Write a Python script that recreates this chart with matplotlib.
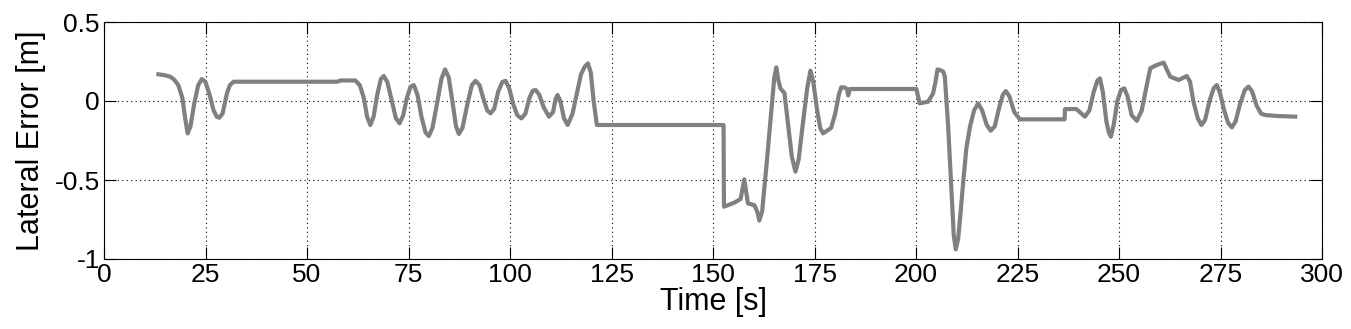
import matplotlib.pyplot as plt
import numpy as np

# time [s] and lateral error [m]
t = [13.4, 15.0, 16.3, 17.3, 18.3, 19.3, 20.0, 20.6, 21.3, 22.2, 23.2, 24.1, 25.0, 26.0, 27.0,
     27.8, 28.4, 29.2, 30.3, 31.0, 31.9, 40.0, 50.0, 57.4, 58.3, 61.9, 63.0, 64.0, 64.8,
     65.6, 66.4, 67.3, 68.2, 68.9, 69.8, 70.9, 71.9, 72.8, 73.7, 74.6, 75.5, 76.3, 77.2,
     78.2, 79.2, 80.0, 80.9, 82.0, 83.1, 84.0, 84.9, 85.8, 86.7, 87.4, 88.3, 89.5, 90.6,
     91.5, 92.5, 93.5, 94.4, 95.2, 96.1, 97.1, 98.1, 98.9, 99.8, 100.8, 101.8, 102.8,
     103.8, 104.8, 105.6, 106.3, 107.2, 108.3, 109.6, 110.6, 111.2, 111.7, 112.4, 113.3,
     114.2, 115.4, 116.5, 117.5, 118.4, 119.2, 119.9, 120.6, 121.4, 130.0, 140.0, 152.6,
     152.7, 155.3, 156.8, 157.7, 158.6, 160.2, 160.9, 161.4, 162.1, 163.2, 164.4, 165.1,
     165.6, 166.1, 166.6, 167.6, 168.5, 169.4, 170.3, 171.1, 172.1, 173.2, 174.0, 174.7,
     175.6, 176.4, 177.1, 178.0, 179.1, 180.1, 181.0, 181.6, 182.5, 183.0, 183.3, 183.7,
     190.0, 200.1, 200.9, 203.0, 204.2, 204.8, 205.3, 206.0, 206.7, 207.1, 207.9, 208.8,
     209.3, 209.8, 210.4, 211.0, 211.6, 212.4, 213.3, 214.3, 215.3, 216.3, 217.4, 218.4,
     219.4, 220.6, 221.4, 222.1, 223.0, 224.2, 225.6, 230.0, 236.6, 236.7, 239.5, 241.6,
     242.7, 243.8, 244.7, 245.3, 246.0, 246.9, 247.5, 248.0, 248.7, 249.6, 250.5, 251.3,
     252.1, 253.1, 254.4, 255.6, 256.6, 257.7, 259.3, 261.0, 262.6, 264.7, 266.7, 267.5,
     268.3, 269.4, 270.3, 271.2, 272.3, 273.3, 274.1, 274.9, 275.9, 276.9, 277.8, 278.7,
     279.8, 281.0, 281.9, 282.8, 283.9, 285.0, 286.0, 289.0, 293.4]
err = [0.169, 0.163, 0.154, 0.135, 0.100, 0.020, -0.110, -0.205, -0.160, -0.020, 0.100, 0.139,
       0.120, 0.040, -0.060, -0.100, -0.106, -0.080, 0.050, 0.100, 0.122, 0.122, 0.122, 0.122,
       0.130, 0.130, 0.100, 0.020, -0.100, -0.152, -0.100, 0.040, 0.140, 0.158, 0.120,
       0.000, -0.110, -0.141, -0.090, 0.020, 0.090, 0.101, 0.040, -0.100, -0.200, -0.222,
       -0.170, -0.020, 0.140, 0.200, 0.150, 0.000, -0.160, -0.209, -0.170, -0.020, 0.100,
       0.128, 0.100, 0.010, -0.060, -0.078, -0.050, 0.060, 0.120, 0.128, 0.080, -0.020,
       -0.090, -0.110, -0.080, 0.020, 0.065, 0.070, 0.040, -0.040, -0.099, -0.070, 0.010,
       0.038, 0.000, -0.110, -0.152, -0.080, 0.050, 0.170, 0.217, 0.238, 0.180, 0.000,
       -0.152, -0.152, -0.152, -0.152, -0.669, -0.643, -0.620, -0.496, -0.648, -0.660,
       -0.700, -0.757, -0.700, -0.400, -0.050, 0.150, 0.213, 0.130, 0.080, 0.050, -0.150,
       -0.350, -0.447, -0.370, -0.150, 0.080, 0.192, 0.120, -0.050, -0.170, -0.205, -0.190,
       -0.170, -0.080, 0.040, 0.087, 0.085, 0.075, 0.035, 0.076, 0.076, 0.076, -0.015,
       -0.004, 0.048, 0.120, 0.200, 0.195, 0.186, 0.155, -0.150, -0.600, -0.850, -0.939,
       -0.870, -0.700, -0.521, -0.300, -0.162, -0.060, -0.015, -0.060, -0.150, -0.188,
       -0.160, -0.030, 0.040, 0.063, 0.030, -0.070, -0.116, -0.116, -0.116, -0.051, -0.051,
       -0.099, -0.060, 0.060, 0.130, 0.143, 0.060, -0.130, -0.200, -0.226, -0.150, 0.000,
       0.070, 0.080, 0.030, -0.090, -0.125, -0.060, 0.070, 0.207, 0.228, 0.243, 0.154,
       0.133, 0.158, 0.122, 0.000, -0.110, -0.152, -0.120, 0.000, 0.080, 0.101, 0.050,
       -0.060, -0.140, -0.167, -0.130, -0.020, 0.070, 0.091, 0.060, -0.030, -0.080, -0.089,
       -0.095, -0.099]

xticks = [0, 25, 50, 75, 100, 125, 150, 175, 200, 225, 250, 275, 300]
yticks = [-1, -0.5, 0, 0.5]
ytick_labels = ['-1', '-0.5', '0', '0.5']

plt.rcParams['font.family'] = ['Liberation Sans', 'DejaVu Sans']

fig = plt.figure(figsize=(13.51, 3.29), dpi=100)
ax = fig.add_axes([104 / 1351, 1 - 259 / 329, (1322 - 104) / 1351, (259 - 22) / 329])

ax.plot(t, err, color='#808080', linewidth=3.0, solid_joinstyle='round')

ax.set_xlim(0, 300)
ax.set_ylim(-1, 0.5)
ax.set_xticks(xticks)
ax.set_xticklabels([str(v) for v in xticks])
ax.set_yticks(yticks)
ax.set_yticklabels(ytick_labels)
ax.grid(True, color='black', linestyle=(0, (1, 3)), linewidth=0.8)
ax.tick_params(direction='in', length=8.5, width=0.8, top=True, right=True,
               labelsize=19, pad=3)
for s in ax.spines.values():
    s.set_linewidth(0.8)

ax.set_xlabel('Time [s]', fontsize=22, labelpad=0)
ax.set_ylabel('Lateral Error [m]', fontsize=22, labelpad=6)

fig.savefig('out.png', dpi=100)
